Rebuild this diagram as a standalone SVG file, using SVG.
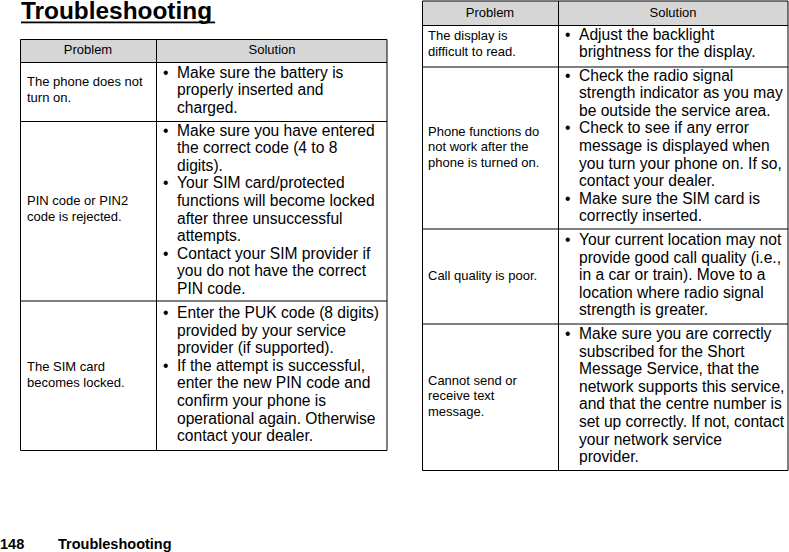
<svg xmlns="http://www.w3.org/2000/svg" width="789" height="552" viewBox="0 0 789 552">
<style>
text{font-family:"Liberation Sans",Arial,sans-serif;fill:#000}
.t{font-size:24.4px;font-weight:bold}
.f{font-size:14.5px;font-weight:bold}
.h{font-size:13px;text-anchor:middle}
.p{font-size:13px}
.s{font-size:15.6px}
.hd{fill:#d6d6d6;stroke:none}
.ln{stroke:#000;stroke-width:1;fill:none}
</style>
<rect x="0" y="0" width="789" height="552" fill="#fff"/>
<g id="title">
<text class="t" x="21" y="19">Troubleshooting</text>
<rect x="21" y="21.5" width="194" height="1.8" fill="#000"/>
</g>
<g id="footer">
<text class="f" x="0" y="549">148</text>
<text class="f" x="58" y="549">Troubleshooting</text>
</g>
<g id="table-left">
<rect class="hd" x="20.5" y="39.5" width="366.5" height="23"/>
<path class="ln" d="M20.5 39.5H387M20.5 62.5H387M20.5 121.5H387M20.5 301H387M20.5 450.5H387M20.5 39.5V450.5M156.5 39.5V450.5M387 39.5V450.5"/>
<text class="h" x="88" y="54">Problem</text>
<text class="h" x="272" y="54">Solution</text>
<g id="l-row1">
<text class="p" x="27" y="86">The phone does not</text>
<text class="p" x="27" y="102">turn on.</text>
<text class="s" x="163" y="77.5">•</text>
<text class="s" x="177" y="77.5">Make sure the battery is</text>
<text class="s" x="177" y="95.1">properly inserted and</text>
<text class="s" x="177" y="112.7">charged.</text>
</g>
<g id="l-row2">
<text class="p" x="27" y="205">PIN code or PIN2</text>
<text class="p" x="27" y="221">code is rejected.</text>
<text class="s" x="163" y="135.5">•</text>
<text class="s" x="177" y="135.5">Make sure you have entered</text>
<text class="s" x="177" y="153.1">the correct code (4 to 8</text>
<text class="s" x="177" y="170.7">digits).</text>
<text class="s" x="163" y="188.3">•</text>
<text class="s" x="177" y="188.3">Your SIM card/protected</text>
<text class="s" x="177" y="205.9">functions will become locked</text>
<text class="s" x="177" y="223.5">after three unsuccessful</text>
<text class="s" x="177" y="241.1">attempts.</text>
<text class="s" x="163" y="258.7">•</text>
<text class="s" x="177" y="258.7">Contact your SIM provider if</text>
<text class="s" x="177" y="276.3">you do not have the correct</text>
<text class="s" x="177" y="293.9">PIN code.</text>
</g>
<g id="l-row3">
<text class="p" x="27" y="371">The SIM card</text>
<text class="p" x="27" y="387">becomes locked.</text>
<text class="s" x="163" y="318">•</text>
<text class="s" x="177" y="318">Enter the PUK code (8 digits)</text>
<text class="s" x="177" y="335.6">provided by your service</text>
<text class="s" x="177" y="353.2">provider (if supported).</text>
<text class="s" x="163" y="370.8">•</text>
<text class="s" x="177" y="370.8">If the attempt is successful,</text>
<text class="s" x="177" y="388.4">enter the new PIN code and</text>
<text class="s" x="177" y="406">confirm your phone is</text>
<text class="s" x="177" y="423.6">operational again. Otherwise</text>
<text class="s" x="177" y="441.2">contact your dealer.</text>
</g>
</g>
<g id="table-right">
<rect class="hd" x="422.5" y="1" width="365.5" height="24.5"/>
<path class="ln" d="M422.5 1H788M422.5 25.5H788M422.5 67H788M422.5 229H788M422.5 324H788M422.5 470.5H788M422.5 1V470.5M558.5 1V470.5M788 1V470.5"/>
<text class="h" x="490" y="17">Problem</text>
<text class="h" x="673" y="17">Solution</text>
<g id="r-row1">
<text class="p" x="428" y="40">The display is</text>
<text class="p" x="428" y="55.5">difficult to read.</text>
<text class="s" x="565" y="39.5">•</text>
<text class="s" x="579" y="39.5">Adjust the backlight</text>
<text class="s" x="579" y="57.1">brightness for the display.</text>
</g>
<g id="r-row2">
<text class="p" x="428" y="135.5">Phone functions do</text>
<text class="p" x="428" y="151">not work after the</text>
<text class="p" x="428" y="166.5">phone is turned on.</text>
<text class="s" x="565" y="80.5">•</text>
<text class="s" x="579" y="80.5">Check the radio signal</text>
<text class="s" x="579" y="98.1">strength indicator as you may</text>
<text class="s" x="579" y="115.7">be outside the service area.</text>
<text class="s" x="565" y="133.3">•</text>
<text class="s" x="579" y="133.3">Check to see if any error</text>
<text class="s" x="579" y="150.9">message is displayed when</text>
<text class="s" x="579" y="168.5">you turn your phone on. If so,</text>
<text class="s" x="579" y="186.1">contact your dealer.</text>
<text class="s" x="565" y="203.7">•</text>
<text class="s" x="579" y="203.7">Make sure the SIM card is</text>
<text class="s" x="579" y="221.3">correctly inserted.</text>
</g>
<g id="r-row3">
<text class="p" x="428" y="279.5">Call quality is poor.</text>
<text class="s" x="565" y="245">•</text>
<text class="s" x="579" y="245">Your current location may not</text>
<text class="s" x="579" y="262.6">provide good call quality (i.e.,</text>
<text class="s" x="579" y="280.2">in a car or train). Move to a</text>
<text class="s" x="579" y="297.8">location where radio signal</text>
<text class="s" x="579" y="315.4">strength is greater.</text>
</g>
<g id="r-row4">
<text class="p" x="428" y="384.5">Cannot send or</text>
<text class="p" x="428" y="400">receive text</text>
<text class="p" x="428" y="415.5">message.</text>
<text class="s" x="565" y="339">•</text>
<text class="s" x="579" y="339">Make sure you are correctly</text>
<text class="s" x="579" y="356.6">subscribed for the Short</text>
<text class="s" x="579" y="374.2">Message Service, that the</text>
<text class="s" x="579" y="391.8">network supports this service,</text>
<text class="s" x="579" y="409.4">and that the centre number is</text>
<text class="s" x="579" y="427" textLength="205" lengthAdjust="spacing">set up correctly. If not, contact</text>
<text class="s" x="579" y="444.6">your network service</text>
<text class="s" x="579" y="462.2">provider.</text>
</g>
</g>
</svg>
